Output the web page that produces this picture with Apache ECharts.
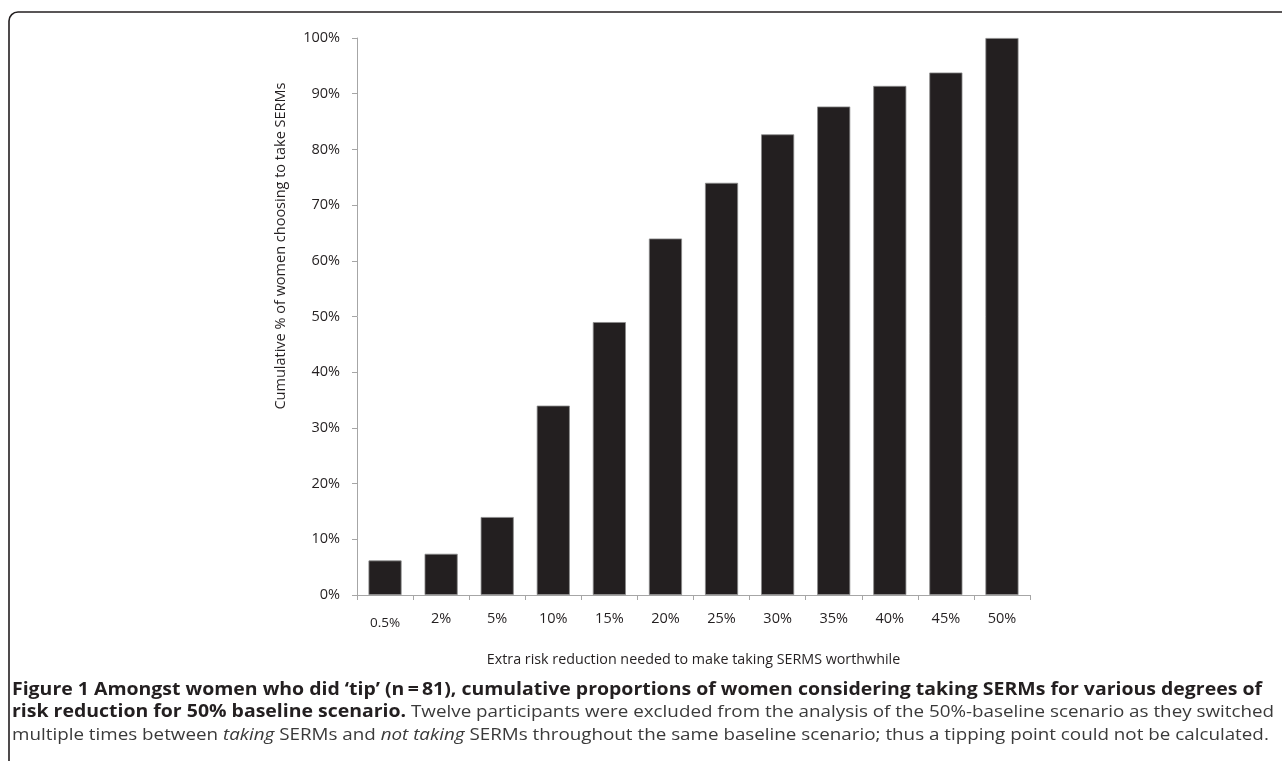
<!DOCTYPE html>
<html>
<head>
<meta charset="utf-8">
<script src="https://cdn.jsdelivr.net/npm/echarts@6/dist/echarts.min.js"></script>
<style>
  html, body { margin: 0; padding: 0; background: #fff; }
  #chart { width: 1282px; height: 761px; }
</style>
</head>
<body>
<div id="chart"></div>
<script>
const categories = ['0.5%', '2%', '5%', '10%', '15%', '20%', '25%', '30%', '35%', '40%', '45%', '50%'];
const cumulativePercent = [6.2, 7.4, 14.0, 34.0, 49.0, 64.0, 74.0, 82.7, 87.7, 91.4, 93.8, 100];
const yTicks = { min: 0, max: 100, interval: 10 };
const xAxisTitle = 'Extra risk reduction needed to make taking SERMS worthwhile';
const yAxisTitle = 'Cumulative % of women choosing to take SERMs';
const captionLines = [
  '{b|Figure 1 Amongst women who did \u2018tip\u2019 (n\u2009=\u200981), cumulative proportions of women considering taking SERMs for various degrees of}',
  '{b|risk reduction for 50% baseline scenario.}{r| Twelve participants were excluded from the analysis of the 50%-baseline scenario as they switched}',
  '{r|multiple times between }{i|taking}{r| SERMs and }{i|not taking}{r| SERMs throughout the same baseline scenario; thus a tipping point could not be calculated.}'
];

const chart = echarts.init(document.getElementById('chart'), null, { renderer: 'canvas' });
const axisGray = '#a6a6a6';
const textDark = '#231f20';
const labFont = '"Open Sans", sans-serif';
const capFont = '"Open Sans", sans-serif';
const capRich = {
  b: { fontFamily: capFont, fontSize: 17.6, fontWeight: 'bold', fill: '#231f20' },
  r: { fontFamily: capFont, fontSize: 17, fill: '#3a3a3a' },
  i: { fontFamily: capFont, fontSize: 17, fontStyle: 'italic', fill: '#3a3a3a' }
};
const capScale = 1.106;

chart.setOption({
  animation: false,
  backgroundColor: '#ffffff',
  grid: { left: 357, right: 252, top: 38, bottom: 166, containLabel: false },
  xAxis: {
    type: 'category',
    data: categories,
    name: xAxisTitle,
    nameLocation: 'middle',
    nameGap: 58,
    nameTextStyle: { fontFamily: labFont, fontSize: 14.3, color: textDark },
    axisLine: { show: true, lineStyle: { color: axisGray, width: 1 } },
    axisTick: { show: true, alignWithLabel: false, interval: 0, length: 5, lineStyle: { color: axisGray } },
    axisLabel: {
      interval: 0,
      margin: 16,
      fontFamily: labFont,
      fontSize: 14.5,
      color: textDark,
      formatter: function (v, i) { return i === 0 ? '{s|' + v + '}' : v; },
      rich: { s: { fontFamily: labFont, fontSize: 13.5, color: textDark, padding: [5, 0, 0, 0] } }
    },
    splitLine: { show: false }
  },
  yAxis: {
    type: 'value',
    min: yTicks.min,
    max: yTicks.max,
    interval: yTicks.interval,
    axisLine: { show: true, lineStyle: { color: axisGray, width: 1 } },
    axisTick: { show: true, length: 5, lineStyle: { color: axisGray } },
    axisLabel: {
      margin: 17,
      fontFamily: labFont,
      fontSize: 14.5,
      color: textDark,
      formatter: '{value}%'
    },
    splitLine: { show: false }
  },
  series: [{
    type: 'bar',
    data: cumulativePercent,
    barWidth: '59%',
    itemStyle: { color: '#231f20', borderColor: '#8a8a8a', borderWidth: 0.8 }
  }],
  graphic: [
    {
      type: 'rect',
      shape: { x: 9, y: 12, width: 1300, height: 800, r: 9 },
      style: { fill: 'none', stroke: '#231f20', lineWidth: 1.6 },
      silent: true
    },
    {
      type: 'text',
      x: 281, y: 246,
      rotation: Math.PI / 2,
      style: {
        text: yAxisTitle,
        fontFamily: labFont,
        fontSize: 14.5,
        fill: textDark,
        align: 'center',
        verticalAlign: 'middle'
      }
    },
    {
      type: 'text', x: 12, y: 690, scaleX: capScale,
      style: { text: captionLines[0], rich: capRich, verticalAlign: 'middle', align: 'left' }
    },
    {
      type: 'text', x: 12, y: 712, scaleX: capScale,
      style: { text: captionLines[1], rich: capRich, verticalAlign: 'middle', align: 'left' }
    },
    {
      type: 'text', x: 12, y: 735, scaleX: capScale,
      style: { text: captionLines[2], rich: capRich, verticalAlign: 'middle', align: 'left' }
    }
  ]
});
</script>
</body>
</html>
